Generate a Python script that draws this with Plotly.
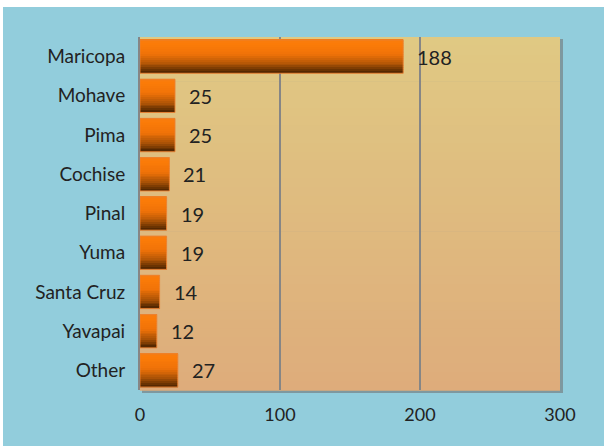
import plotly.graph_objects as go

counties = ["Maricopa", "Mohave", "Pima", "Cochise", "Pinal", "Yuma", "Santa Cruz", "Yavapai", "Other"]
counts = [188, 25, 25, 21, 19, 19, 14, 12, 27]
x_ticks = [0, 100, 200, 300]

BLUE = "#92CDDC"
FONT = "Lato"
TXT = "#222222"

def lerp(c1, c2, t):
    return tuple(round(a + (b - a) * t) for a, b in zip(c1, c2))

def grad(stops, t):
    for (t0, c0), (t1, c1) in zip(stops, stops[1:]):
        if t0 <= t <= t1:
            return lerp(c0, c1, (t - t0) / (t1 - t0) if t1 > t0 else 0)
    return stops[-1][1]

bar_stops = [(0.0, (246, 124, 18)), (0.12, (252, 124, 8)), (0.45, (240, 114, 8)),
             (0.75, (170, 82, 6)), (1.0, (74, 35, 0))]

fig = go.Figure()
W = 0.85
N = 18
for i in range(N):
    c = grad(bar_stops, (i + 0.5) / N)
    fig.add_trace(go.Bar(
        y=counties, x=counts, orientation="h",
        width=W / N + 0.002, offset=-W / 2 + i * W / N,
        marker=dict(color="rgb(%d,%d,%d)" % c, line=dict(width=0)),
        hoverinfo="skip", showlegend=False,
    ))
# outline trace
fig.add_trace(go.Bar(
    y=counties, x=counts, orientation="h", width=W, offset=-W / 2,
    marker=dict(color="rgba(0,0,0,0)", line=dict(color="rgba(235,130,50,0.9)", width=1)),
    hoverinfo="skip", showlegend=False,
))

for c, v in zip(counties, counts):
    fig.add_annotation(x=v, y=c, text=str(v), showarrow=False, xanchor="left",
                       xshift=12, font=dict(family=FONT, size=20, color=TXT))

L, R, T, B = 140, 560, 37, 390
PW, PH = R - L, B - T
shapes = []
# blue panel (white frame visible at left/top)
shapes.append(dict(type="rect", xref="paper", yref="paper", x0=(3 - L) / PW, x1=(610 - L) / PW,
                   y0=(B - 452) / PH, y1=(B - 7) / PH, fillcolor=BLUE, line=dict(width=0), layer="below"))
# plot-area shadow
shapes.append(dict(type="rect", xref="paper", yref="paper", x0=2 / PW, x1=1 + 3 / PW,
                   y0=-3 / PH, y1=1 - 2 / PH, fillcolor="rgba(110,110,110,0.55)", line=dict(width=0), layer="below"))
# plot-area gradient
bg_top, bg_bot = (224, 201, 131), (222, 172, 123)
NS = 40
for k in range(NS):
    c = lerp(bg_top, bg_bot, (k + 0.5) / NS)
    shapes.append(dict(type="rect", xref="paper", yref="paper", x0=0, x1=1,
                       y0=1 - (k + 1) / NS - 0.002, y1=1 - k / NS,
                       fillcolor="rgb(%d,%d,%d)" % c, line=dict(width=0), layer="below"))

fig.update_layout(
    width=604, height=446,
    margin=dict(l=L, r=604 - R, t=T, b=446 - B),
    paper_bgcolor="white", plot_bgcolor="rgba(0,0,0,0)",
    barmode="overlay", shapes=shapes,
    font=dict(family=FONT, color=TXT),
    xaxis=dict(range=[0, 300], tickvals=x_ticks, showgrid=True, gridcolor="#868686", gridwidth=2,
               zeroline=False, showline=False, ticklabelstandoff=12,
               tickfont=dict(family=FONT, size=18, color=TXT), fixedrange=True),
    yaxis=dict(autorange="reversed", showgrid=False, showline=True, linecolor="#868686", linewidth=2,
               ticks="", ticklabelstandoff=9, tickfont=dict(family=FONT, size=19, color=TXT), fixedrange=True),
)

fig.write_html("out.html", config={"displayModeBar": False},
               post_script="document.body.style.margin='0';document.body.style.overflow='hidden';")
